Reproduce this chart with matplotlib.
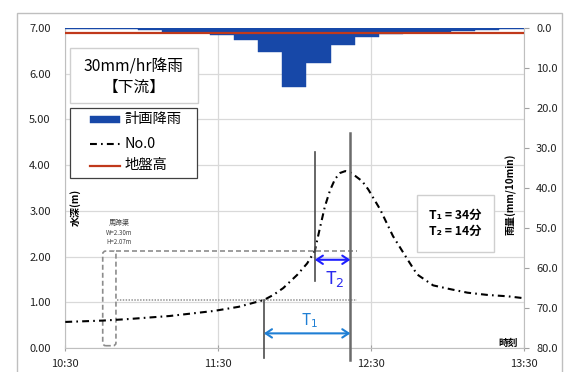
import matplotlib
matplotlib.use("Agg")
import matplotlib.pyplot as plt
from matplotlib.patches import Rectangle, FancyBboxPatch
from matplotlib.lines import Line2D

plt.rcParams['font.family'] = ['Noto Sans CJK JP', 'DejaVu Sans']
plt.rcParams['mathtext.fontset'] = 'dejavusans'

# ---- time axis (minutes after 10:30) ----
time_ticks = [0, 60, 120, 180]
time_labels = ['10:30', '11:30', '12:30', '13:30']

# ---- water level at No.0 (m) ----
level_t = [0, 14.8, 24, 41, 58.3, 68, 78, 81.7, 85.6, 91.1, 95, 98, 100, 102,
           104, 106, 108, 110, 112, 114, 116.6, 119, 123.7, 128.7, 134.4,
           138.2, 144.5, 151, 158, 166, 174, 180]
level_m = [0.57, 0.60, 0.63, 0.70, 0.81, 0.90, 1.05, 1.16, 1.31, 1.60, 1.85,
           2.12, 2.62, 3.10, 3.45, 3.70, 3.83, 3.87, 3.84, 3.76, 3.65, 3.47,
           3.03, 2.45, 1.94, 1.61, 1.37, 1.29, 1.21, 1.16, 1.13, 1.09]

# ---- design rainfall (mm/10min), one value per 10 min step 10:30..13:30 ----
rain = [0.3, 0.3, 0.3, 0.5, 0.9, 1.3, 1.8, 3.0, 5.9, 14.8, 8.8, 4.3, 2.3,
        1.5, 1.2, 0.9, 0.7, 0.5, 0.3]

ground_level = 6.90

# ---- horseshoe culvert ----
culvert_name = '馬蹄渠'
culvert_w = 2.30
culvert_h = 2.07
culvert_invert = 0.05
culvert_t = (14.7, 19.9)
guide_end = 114.6

# ---- arrival times ----
t1_start = 78
t2_start = 98
t_end = 112
level_at_t1 = 1.05

legend_labels = ['計画降雨', 'No.0', '地盤高']

BLUE = '#1748a8'
RED = '#c0391b'
GRID = '#d9d9d9'
AXC = '#bfbfbf'
DASHDOT = (0, (3.3, 2.0, 0.8, 2.0))

fig = plt.figure(figsize=(5.66, 3.72), dpi=100)
rect = [65.3 / 566, 24 / 372, (523.5 - 65.3) / 566, 320 / 372]

ax = fig.add_axes(rect)
ax_r = fig.add_axes(rect)
ax_r.patch.set_alpha(0)

# main axis
ax.set_xlim(0, 180)
ax.set_ylim(0, 7)
ax.set_xticks(time_ticks)
ax.set_xticklabels(time_labels)
ax.set_yticks(range(0, 8))
ax.set_yticklabels([f'{v:.2f}' for v in range(0, 8)])
ax.grid(True, color=GRID, lw=0.9)
ax.set_axisbelow(True)
for s in ['top', 'right']:
    ax.spines[s].set_visible(False)
for s in ['left', 'bottom']:
    ax.spines[s].set_color(AXC)
ax.tick_params(axis='y', length=0, pad=10.5, labelsize=8, colors='#222222')
ax.tick_params(axis='x', direction='inout', length=4.5, color='#a0a0a0',
               pad=6, labelsize=8, labelcolor='#222222')

# rain axis (inverted, right side)
n = len(rain)
ax_r.set_xlim(0, n)
ax_r.set_ylim(80, 0)
ax_r.bar([i + 0.5 for i in range(n)], rain, width=1.0, color=BLUE,
         edgecolor=BLUE, linewidth=0.3, zorder=2)
ax_r.xaxis.set_visible(False)
ax_r.yaxis.tick_right()
ax_r.set_yticks(range(0, 81, 10))
ax_r.set_yticklabels([f'{v:.1f}' for v in range(0, 81, 10)])
ax_r.tick_params(axis='y', direction='out', length=3.6, color='#a0a0a0',
                 pad=5.5, labelsize=8, labelcolor='#222222')
for s in ['top', 'left', 'bottom']:
    ax_r.spines[s].set_visible(False)
ax_r.spines['right'].set_color(AXC)

# ground level, drawn over the rain bars
ax_r.add_line(Line2D([0, 180], [ground_level, ground_level],
                     transform=ax.transData, color=RED, lw=1.6, zorder=3))

# water level curve
ax.plot(level_t, level_m, color='black', lw=1.5, linestyle=DASHDOT, zorder=4)

# culvert cross-section and guide lines
c_top = culvert_invert + culvert_h
cx0, cx1 = culvert_t
box = FancyBboxPatch((cx0, culvert_invert), cx1 - cx0, culvert_h,
                     boxstyle='round,pad=0,rounding_size=1.2',
                     mutation_aspect=0.055, fill=False,
                     edgecolor='#8c8c8c', lw=1.2, linestyle=(0, (3, 1.8)),
                     zorder=3)
ax.add_patch(box)
ax.plot([cx1, guide_end], [c_top, c_top], color='#8c8c8c', lw=1.2,
        linestyle=(0, (3, 1.8)), zorder=3)
ax.plot([cx1 + 0.3, guide_end], [level_at_t1, level_at_t1], color='#a0a0a0',
        lw=1.3, linestyle=(0, (0.8, 0.8)), zorder=3)
ax.text(21.2, 2.73, culvert_name, fontsize=5, ha='center', va='center',
        color='#404040')
ax.text(21.2, 2.51, f'W={culvert_w:.2f}m', fontsize=4.4, ha='center',
        va='center', color='#404040')
ax.text(21.2, 2.32, f'H={culvert_h:.2f}m', fontsize=4.4, ha='center',
        va='center', color='#404040')

# vertical markers
ax.plot([t1_start, t1_start], [-0.22, level_at_t1], color='#4d4d4d', lw=1.2,
        clip_on=False, zorder=5)
ax.plot([t2_start, t2_start], [1.46, 4.29], color='#4d4d4d', lw=1.2,
        clip_on=False, zorder=5)
ax.plot([t_end, t_end], [-0.26, 4.70], color='#6b6b6b', lw=1.8,
        clip_on=False, zorder=5)

# arrows
ax.annotate('', xy=(t_end, 1.93), xytext=(t2_start, 1.93),
            arrowprops=dict(arrowstyle='<->,head_length=0.45,head_width=0.3',
                            color='#1f1fff', lw=1.5, shrinkA=0, shrinkB=0),
            zorder=6)
ax.annotate('', xy=(t_end, 0.32), xytext=(t1_start, 0.32),
            arrowprops=dict(arrowstyle='<->,head_length=0.45,head_width=0.3',
                            color='#1f7fd4', lw=1.5, shrinkA=0, shrinkB=0),
            zorder=6)
ax.text(106, 1.50, r'T$_2$', fontsize=13, color='#2a2aee', ha='center',
        va='center')
ax.text(96, 0.60, r'T$_1$', fontsize=11, color='#1f7fd4', ha='center',
        va='center')

# axis labels inside the plot area
ax_r.text(0.022, 0.44, '水深(m)', transform=ax_r.transAxes, rotation=90,
          fontsize=7.2, fontweight='bold', ha='center', va='center')
ax_r.text(0.972, 0.48, '雨量(mm/10min)', transform=ax_r.transAxes,
          rotation=90, fontsize=7.2, fontweight='bold', ha='center',
          va='center')
ax_r.text(0.988, 0.016, '時刻', transform=ax_r.transAxes, fontsize=7,
          fontweight='bold', ha='right', va='center')


def px_to_axes(px, py):
    return (px - 65.3) / 458.2, (348 - py) / 320


# title box
x0, y1 = px_to_axes(70, 48)
x1, y0 = px_to_axes(198, 103)
ax_r.add_patch(Rectangle((x0, y0), x1 - x0, y1 - y0,
                         transform=ax_r.transAxes, facecolor='white',
                         edgecolor='#cfcfcf', lw=1.0, zorder=7))
tx, ty = px_to_axes(134, 66.7)
ax_r.text(tx, ty, '30mm/hr降雨', transform=ax_r.transAxes, fontsize=11.3,
          ha='center', va='center', zorder=8)
tx, ty = px_to_axes(134, 87.5)
ax_r.text(tx, ty, '【下流】', transform=ax_r.transAxes, fontsize=11.3,
          ha='center', va='center', zorder=8)

# T box
x0, y1 = px_to_axes(417, 195)
x1, y0 = px_to_axes(494, 252)
ax_r.add_patch(Rectangle((x0, y0), x1 - x0, y1 - y0,
                         transform=ax_r.transAxes, facecolor='white',
                         edgecolor='#cfcfcf', lw=1.0, zorder=7))
tx, ty = px_to_axes(455.5, 223.5)
ax_r.text(tx, ty,
          f'T\u2081 = {t_end - t1_start}分\nT\u2082 = {t_end - t2_start}分',
          transform=ax_r.transAxes, fontsize=8.8, fontweight='bold',
          ha='center', va='center', linespacing=1.3, zorder=8)

# legend frame with sample marks
x0, y1 = px_to_axes(70, 108)
x1, y0 = px_to_axes(197, 178)
ax_r.add_patch(Rectangle((x0, y0), x1 - x0, y1 - y0,
                         transform=ax_r.transAxes, facecolor='white',
                         edgecolor='#404040', lw=0.9, zorder=9))
row_y = [119.3, 143.5, 165.5]
hx0, _ = px_to_axes(90, 0)
hx1, _ = px_to_axes(120, 0)
lx, _ = px_to_axes(124.5, 0)
_, ry = px_to_axes(0, row_y[0])
_, rh = px_to_axes(0, row_y[0] - 3.5)
ax_r.add_patch(Rectangle((hx0, 2 * ry - rh), hx1 - hx0, 2 * (rh - ry),
                         transform=ax_r.transAxes, facecolor=BLUE,
                         edgecolor=BLUE, lw=0.3, zorder=10))
_, ry = px_to_axes(0, row_y[1])
ax_r.add_line(Line2D([hx0, hx1], [ry, ry], transform=ax_r.transAxes,
                     color='black', lw=1.5, linestyle=DASHDOT, zorder=10))
_, ry = px_to_axes(0, row_y[2])
ax_r.add_line(Line2D([hx0, hx1], [ry, ry], transform=ax_r.transAxes,
                     color=RED, lw=1.6, zorder=10))
for label, py in zip(legend_labels, row_y):
    _, ry = px_to_axes(0, py)
    ax_r.text(lx, ry, label, transform=ax_r.transAxes, fontsize=10.3,
              ha='left', va='center', zorder=10)

# chart border
fig.patches.append(Rectangle((17 / 566, -0.01), (562 - 17) / 566,
                             (372 - 13) / 372 + 0.01,
                             transform=fig.transFigure, fill=False,
                             edgecolor='#bfbfbf', lw=1.0))

fig.savefig('out.png', dpi=100)
